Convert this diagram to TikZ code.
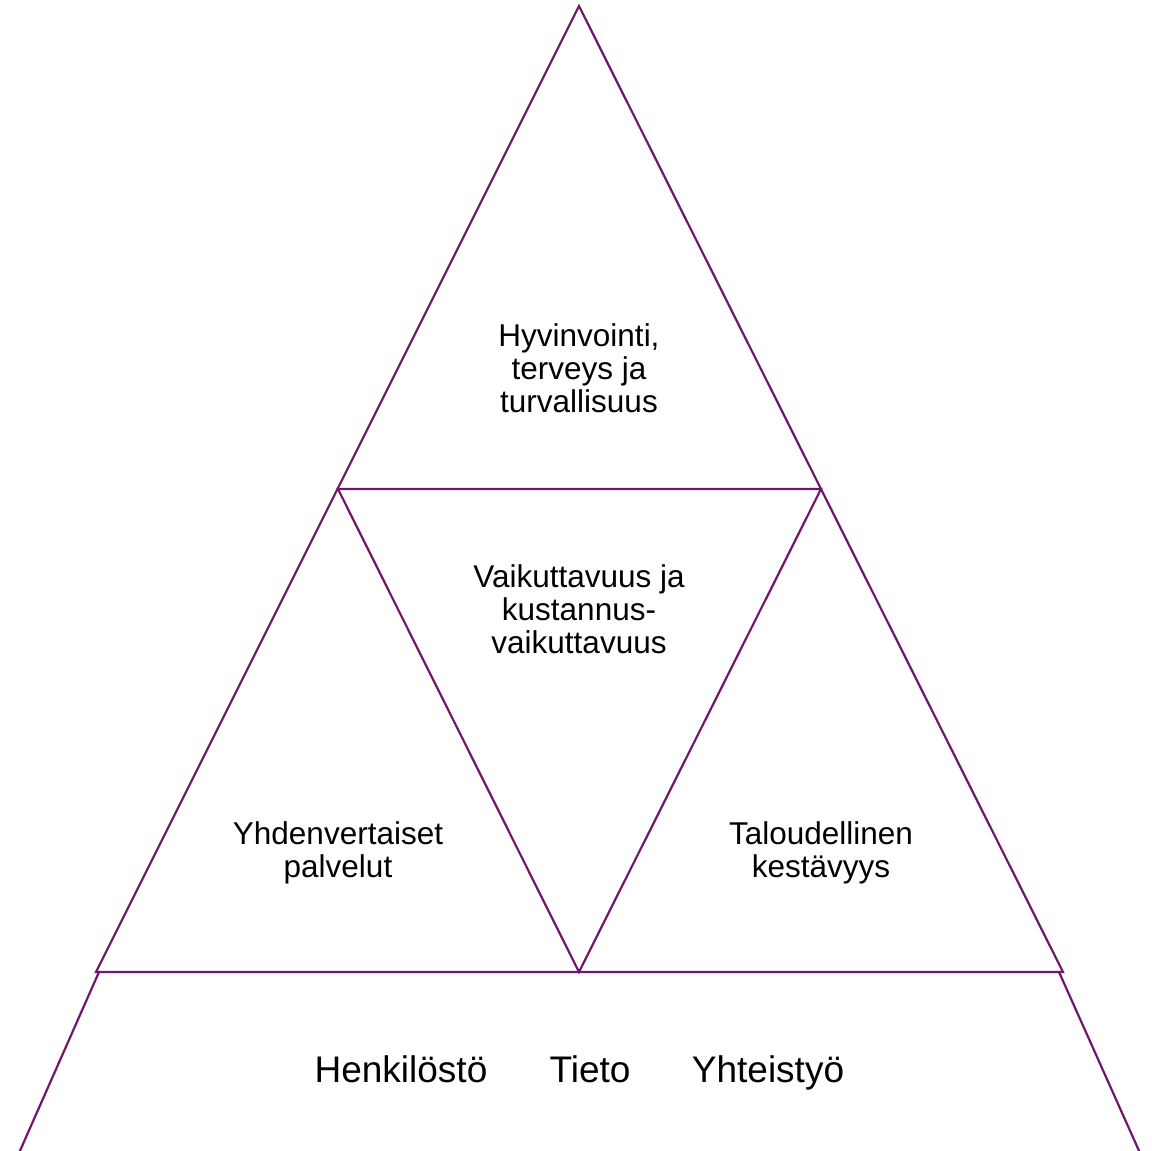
\documentclass[tikz,border=0pt]{standalone}
\usepackage{fontspec}
\setmainfont{Liberation Sans}
\definecolor{plum}{RGB}{112,22,110}
\begin{document}
\begin{tikzpicture}[x=1pt,y=-1pt,
  edge/.style={draw=plum,line width=2.2pt,line join=miter},
  lbl/.style={align=center,inner sep=0pt,font=\fontsize{31.5}{33}\selectfont},
  base/.style={inner sep=0pt,anchor=base,font=\fontsize{37}{40}\selectfont}]
\useasboundingbox (0,0) rectangle (1152,1151);
\coordinate (apex) at (579,6);
\coordinate (bl) at (96,972);
\coordinate (br) at (1063,972);
\coordinate (ml) at (338,489);
\coordinate (mr) at (821,489);
\coordinate (mb) at (579,972);
\coordinate (tl) at (99,972);
\coordinate (tr) at (1059,972);
\coordinate (fl) at (19,1153);
\coordinate (fr) at (1140,1153);
\draw[edge] (apex) -- (br) -- (bl) -- cycle;
\draw[edge] (ml) -- (mr) -- (mb) -- cycle;
\draw[edge] (tl) -- (fl);
\draw[edge] (tr) -- (fr);
\node[lbl] (top) at (579,368) {Hyvinvointi,\\terveys ja\\turvallisuus};
\node[lbl] (mid) at (579,609) {Vaikuttavuus ja\\kustannus-\\vaikuttavuus};
\node[lbl] (left) at (338,853) {Yhdenvertaiset\\palvelut};
\node[lbl] (right) at (821,853) {Taloudellinen\\kestävyys};
\node[base] (h) at (401,1082) {Henkilöstö};
\node[base] (t) at (590,1082) {Tieto};
\node[base] (y) at (768,1082) {Yhteistyö};
\end{tikzpicture}
\end{document}
